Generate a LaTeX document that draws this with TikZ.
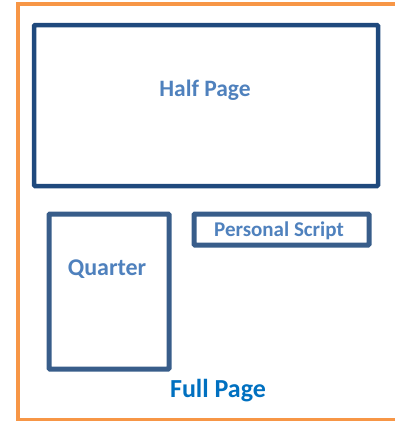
\documentclass[tikz,border=0pt]{standalone}
\usepackage{fontspec}
\setmainfont{Carlito}
\definecolor{pageorange}{HTML}{F79646}
\definecolor{halfblue}{HTML}{1F497D}
\definecolor{boxblue}{HTML}{385D8A}
\definecolor{labelblue}{HTML}{4F81BD}
\definecolor{fullblue}{HTML}{0070C0}
\tikzset{
  adbox/.style={draw=boxblue, line width=5pt, rounded corners=1pt},
  adlabel/.style={text=labelblue, font=\bfseries, anchor=base, inner sep=0pt}
}
\begin{document}
\begin{tikzpicture}[x=1pt, y=-1pt]
        \useasboundingbox (0,0) rectangle (395,421);

        % Full page frame (runs off the right edge)
        \draw[pageorange, line width=4pt] (405,4) -- (18,4) -- (18,420) -- (405,420);

        % Half page box
        \draw[adbox, draw=halfblue, line width=4.5pt] (34,25) rectangle (378,186);
        \node[adlabel, font=\fontsize{23.5}{28}\bfseries] (halfpage) at (205,96) {Half Page};

        % Quarter box
        \draw[adbox] (49,214) rectangle (169,369);
        \node[adlabel, font=\fontsize{24}{28}\bfseries] (quarter) at (107,275) {Quarter};

        % Personal script box
        \draw[adbox] (194,214) rectangle (369,245);
        \node[adlabel, font=\fontsize{21}{25}\bfseries] (script) at (279,236) {Personal Script};

        % Label for the whole page
        \node[adlabel, text=fullblue, font=\fontsize{26}{30}\bfseries] (fullpage) at (218,397) {Full Page};
    \end{tikzpicture}
\end{document}
